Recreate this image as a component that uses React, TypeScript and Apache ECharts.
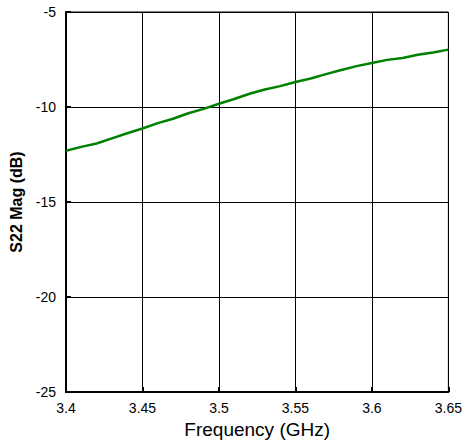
import React, { useEffect, useRef } from "react";
import * as echarts from "echarts";

const freqs = [3.4, 3.41, 3.42, 3.43, 3.44, 3.45, 3.46, 3.47, 3.48, 3.49, 3.5, 3.51, 3.52, 3.53, 3.54, 3.55, 3.56, 3.57, 3.58, 3.59, 3.6, 3.61, 3.62, 3.63, 3.64, 3.65];
const s22 = [-12.3, -12.1, -11.92, -11.65, -11.38, -11.13, -10.85, -10.62, -10.33, -10.1, -9.83, -9.58, -9.3, -9.08, -8.9, -8.68, -8.5, -8.27, -8.05, -7.85, -7.68, -7.52, -7.42, -7.25, -7.13, -6.98];

export default function App() {
  const ref = useRef<HTMLDivElement>(null);
  useEffect(() => {
    if (!ref.current) return;
    document.body.style.margin = "0";
    const chart = echarts.init(ref.current, null, { renderer: "svg" });
    const font = "Liberation Sans, Arial, sans-serif";
    chart.setOption({
      animation: false,
      grid: { left: 66, top: 12, right: 15, bottom: 49, show: true, borderColor: "#000", borderWidth: 1 },
      xAxis: {
        type: "value",
        min: 3.4,
        max: 3.65,
        interval: 0.05,
        name: "Frequency (GHz)",
        nameLocation: "middle",
        nameGap: 28,
        nameTextStyle: { color: "#000", fontSize: 19, fontFamily: font },
        axisLine: { show: true, lineStyle: { color: "#000", width: 2 } },
        axisTick: { show: true, inside: true, length: 5, lineStyle: { color: "#000", width: 2 } },
        axisLabel: { color: "#000", fontSize: 14, fontFamily: font, margin: 9, formatter: (v: number) => String(Math.round(v * 100) / 100) },
        splitLine: { show: true, lineStyle: { color: "#000", width: 1 } },
      },
      yAxis: {
        type: "value",
        min: -25,
        max: -5,
        interval: 5,
        name: "S22 Mag (dB)",
        nameLocation: "middle",
        nameGap: 37,
        nameTextStyle: { color: "#000", fontSize: 16, fontWeight: "bold", fontFamily: font },
        axisLine: { show: true, lineStyle: { color: "#000", width: 2 } },
        axisTick: { show: true, inside: true, length: 5, lineStyle: { color: "#000", width: 2 } },
        axisLabel: { color: "#000", fontSize: 14, fontFamily: font, margin: 10 },
        splitLine: { show: true, lineStyle: { color: "#000", width: 1 } },
      },
      series: [
        {
          type: "line",
          data: freqs.map((f, i) => [f, s22[i]]),
          showSymbol: false,
          lineStyle: { color: "#008000", width: 2.5 },
          itemStyle: { color: "#008000" },
        },
      ],
    });
    return () => chart.dispose();
  }, []);
  return <div ref={ref} style={{ width: 465, height: 444 }} />;
}
